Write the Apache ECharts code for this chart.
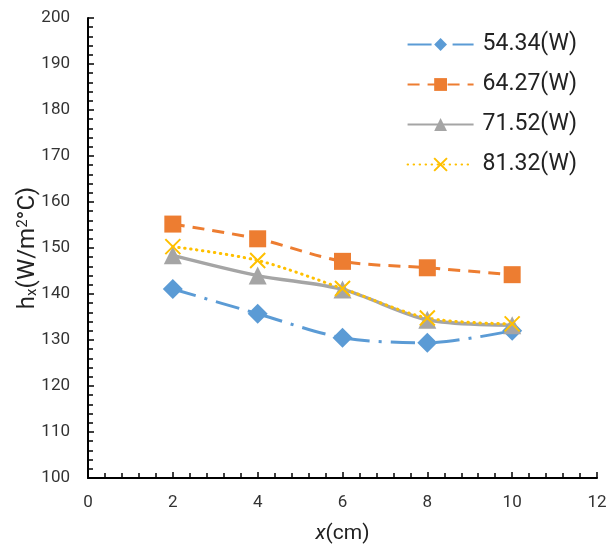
<!DOCTYPE html>
<html><head><meta charset="utf-8">
<script src="https://cdn.jsdelivr.net/npm/echarts@6/dist/echarts.min.js"></script>
<style>html,body{margin:0;padding:0;background:#fff}#c{width:612px;height:544px}</style>
</head><body><div id="c"></div>
<script>
const xValues = [2, 4, 6, 8, 10];
const seriesNames = ['54.34(W)', '64.27(W)', '71.52(W)', '81.32(W)'];
const s1 = [141.1, 135.7, 130.5, 129.4, 132.0];
const s2 = [155.2, 152.0, 147.1, 145.7, 144.2];
const s3 = [148.4, 144.0, 141.0, 134.4, 133.2];
const s4 = [150.3, 147.3, 141.2, 134.8, 133.5];
const xTicks = [0, 2, 4, 6, 8, 10, 12];
const yTicks = [100, 110, 120, 130, 140, 150, 160, 170, 180, 190, 200];

const pair = (arr) => xValues.map((x, i) => [x, arr[i]]);
const font = 'Roboto, "Noto Sans", sans-serif';
const chart = echarts.init(document.getElementById('c'));
const mk = (name, data, color, symbol, size, ltype, cap, width, isX) => ({
  name, type: 'line', data: pair(data), smooth: 0.3,
  symbol, symbolSize: size,
  itemStyle: isX ? { color: color, borderColor: color, borderWidth: 2 } : { color },
  lineStyle: { color, width: width, type: ltype, cap: cap || 'butt' }
});
chart.setOption({
  animation: false,
  backgroundColor: '#fff',
  grid: { left: 88, right: 15, top: 18, bottom: 66, outerBoundsMode: 'none', containLabel: false },
  legend: {
    orient: 'vertical', right: 30, top: 28, itemWidth: 66, itemHeight: 16, itemGap: 17,
    textStyle: { fontSize: 23, color: '#222', fontFamily: font, padding: [0, 0, 0, 4] },
    data: seriesNames
  },
  xAxis: {
    type: 'value', min: 0, max: 12, interval: 2,
    name: '{i|x}(cm)', nameLocation: 'middle', nameGap: 45,
    nameTextStyle: { fontSize: 21, color: '#222', fontFamily: font, rich: { i: { fontStyle: 'italic', fontSize: 21, color: '#222', fontFamily: font } } },
    axisLine: { lineStyle: { color: '#000', width: 2 } },
    axisTick: { inside: true, length: 6, lineStyle: { color: '#000', width: 1.5 } },
    minorTick: { show: true, splitNumber: 5, length: 5, lineStyle: { color: '#000', width: 1.5 } },
    splitLine: { show: false },
    axisLabel: { fontSize: 17, color: '#333', margin: 16, fontFamily: font, formatter: v => xTicks.includes(v) ? String(v) : '' }
  },
  yAxis: {
    type: 'value', min: 100, max: 200, interval: 10,
    name: 'h{sub|x}(W/m{sup|2}°C)', nameLocation: 'middle', nameGap: 48, nameRotate: 90,
    nameMoveOverlap: false,
    nameTextStyle: { fontSize: 24, color: '#222', fontFamily: font,
      rich: { sub: { fontSize: 15, verticalAlign: 'bottom', padding: [9, 0, 0, 0], color: '#222', fontFamily: font },
              sup: { fontSize: 15, verticalAlign: 'top', padding: [0, 0, 9, 0], color: '#222', fontFamily: font } } },
    axisLine: { show: true, lineStyle: { color: '#000', width: 2 } },
    axisTick: { show: true, inside: true, length: 6, lineStyle: { color: '#000', width: 1.5 } },
    minorTick: { show: true, splitNumber: 5, length: 5, lineStyle: { color: '#000', width: 1.5 } },
    splitLine: { show: false },
    axisLabel: { fontSize: 17, color: '#333', margin: 18, fontFamily: font, formatter: v => yTicks.includes(v) ? String(v) : '' }
  },
  series: [
    mk(seriesNames[0], s1, '#5B9BD5', 'diamond', 20, [24, 9, 3, 9], 'butt', 3),
    mk(seriesNames[1], s2, '#ED7D31', 'rect', 17, [12, 8], 'butt', 3),
    mk(seriesNames[2], s3, '#A5A5A5', 'triangle', 18, 'solid', 'butt', 3.5),
    mk(seriesNames[3], s4, '#FFC000', 'path://M0,0L10,10M10,0L0,10', 15, [0.5, 5.5], 'round', 3, true)
  ]
});
</script></body></html>
